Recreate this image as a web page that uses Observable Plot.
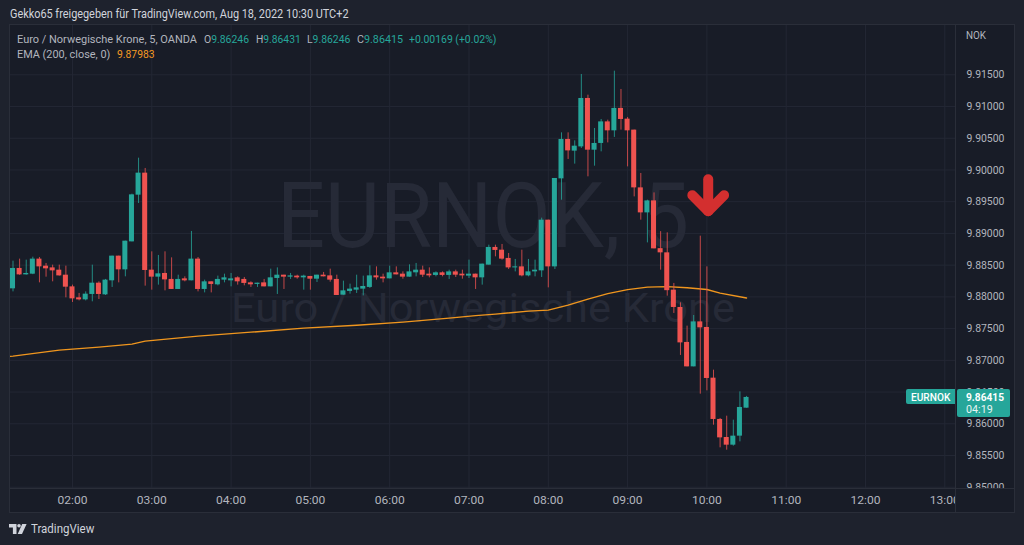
<!DOCTYPE html>
<html><head><meta charset="utf-8">
<script src="https://cdn.jsdelivr.net/npm/d3@7"></script>
<script src="https://cdn.jsdelivr.net/npm/@observablehq/plot@0.6"></script>
<style>
html,body{margin:0;padding:0;background:#1e222d;overflow:hidden}
#wrap{position:relative;width:1024px;height:545px;overflow:hidden;background:#1e222d;font-family:Roboto,"Open Sans",sans-serif}
.abs{position:absolute}
.t{position:absolute;white-space:nowrap;line-height:1;transform-origin:0 50%}
</style></head><body>
<div id="wrap">
<div class="abs" style="left:9px;top:24px;width:1006px;height:489px;box-sizing:border-box;border:1px solid #2a2e39;background:#181c27"></div>
<div id="chart" class="abs" style="left:0;top:0"></div>
<div class="abs" style="left:956px;top:489px;width:58px;height:23px;background:#181c27"></div>
<div class="abs" style="left:955px;top:25px;width:1px;height:487px;background:#2a2e39"></div>
<div class="abs" style="left:10px;top:488px;width:1004px;height:1px;background:#2a2e39"></div>
<svg class="abs" style="left:9px;top:524px" width="18" height="10" viewBox="0 0 18 10"><path d="M0 0h7.5v10h-3.6v-6.4h-3.9z" fill="#d1d4dc"/><circle cx="10" cy="1.8" r="1.8" fill="#d1d4dc"/><path d="M13.2 0h4.4l-4.6 10h-4.3z" fill="#d1d4dc"/></svg>
</div>
<script>
// ---------- data ----------
const symbol = "EURNOK";
const symbolName = "Euro / Norwegische Krone";
const firstBar = "01:15";
const barMinutes = 5;
const open = [9.88127,9.88448,9.88347,9.88358,9.88595,9.88484,9.88457,9.88421,9.88342,9.88158,
9.87985,9.87953,9.88038,9.88216,9.88032,9.88253,9.88642,9.88426,9.88867,9.89603,
9.89950,9.88421,9.88311,9.88369,9.88275,9.88117,9.88284,9.88253,9.88595,9.88117,
9.88237,9.88190,9.88264,9.88253,9.88300,9.88275,9.88221,9.88196,9.88221,9.88158,
9.88290,9.88342,9.88311,9.88327,9.88300,9.88322,9.88279,9.88342,9.88331,9.88275,
9.88027,9.88086,9.88106,9.88122,9.88149,9.88331,9.88311,9.88284,9.88379,9.88358,
9.88311,9.88379,9.88421,9.88358,9.88338,9.88379,9.88338,9.88394,9.88358,9.88327,
9.88358,9.88300,9.88500,9.88779,9.88736,9.88606,9.88457,9.88473,9.88331,9.88394,
9.88410,9.89209,9.88473,9.89860,9.90481,9.90297,9.90364,9.91127,9.90312,9.90418,
9.90758,9.90617,9.90970,9.90801,9.90628,9.89718,9.89324,9.89513,9.88760,9.88694,
9.88106,9.87833,9.87282,9.86897,9.87606,9.87518,9.86719,9.86068,9.85784,9.85663,
9.85805,9.86246];
const high = [9.88563,9.88595,9.88579,9.88626,9.88621,9.88527,9.88500,9.88500,9.88484,9.88185,
9.88054,9.88079,9.88500,9.88237,9.88275,9.88642,9.88642,9.88878,9.89619,9.90186,
9.90024,9.88710,9.88653,9.88710,9.88615,9.88342,9.88316,9.89031,9.88621,9.88264,
9.88237,9.88327,9.88358,9.88369,9.88316,9.88306,9.88237,9.88216,9.88275,9.88437,
9.88457,9.88342,9.88369,9.88342,9.88342,9.88322,9.88342,9.88385,9.88437,9.88342,
9.88248,9.88201,9.88342,9.88327,9.88489,9.88473,9.88358,9.88484,9.88473,9.88394,
9.88505,9.88527,9.88484,9.88457,9.88394,9.88394,9.88421,9.88421,9.88421,9.88579,
9.88358,9.88516,9.88815,9.88815,9.88826,9.88684,9.88590,9.88736,9.88590,9.88579,
9.89241,9.89209,9.89866,9.90585,9.90585,9.90459,9.91505,9.91179,9.90654,9.90796,
9.90785,9.91557,9.91269,9.90828,9.90628,9.89945,9.89524,9.89639,9.89028,9.89009,
9.88212,9.87906,9.87539,9.87707,9.88957,9.88473,9.86845,9.86084,9.86120,9.86057,
9.86503,9.86431];
const low = [9.88079,9.88340,9.88342,9.88350,9.88221,9.88311,9.88237,9.88327,9.87985,9.87912,
9.87937,9.87937,9.87922,9.87959,9.88022,9.88149,9.88221,9.88316,9.88867,9.89472,
9.88169,9.88106,9.88185,9.88095,9.88117,9.88117,9.88237,9.88253,9.88079,9.88063,
9.88063,9.88174,9.88221,9.88158,9.88185,9.88174,9.88149,9.88149,9.88158,9.88158,
9.88038,9.88117,9.88275,9.88279,9.88106,9.88106,9.88227,9.88316,9.88232,9.88022,
9.88027,9.88043,9.88054,9.88016,9.88133,9.88264,9.88221,9.88284,9.88347,9.88279,
9.88311,9.88316,9.88306,9.88300,9.88316,9.88316,9.88275,9.88306,9.88279,9.88290,
9.88117,9.88185,9.88500,9.88631,9.88579,9.88432,9.88394,9.88316,9.88316,9.88316,
9.88306,9.88142,9.88432,9.89524,9.90166,9.90092,9.90339,9.89892,9.90060,9.90286,
9.90427,9.90513,9.90628,9.90049,9.89576,9.89209,9.88851,9.88757,9.88421,9.88011,
9.87739,9.87077,9.86897,9.86897,9.86467,9.86519,9.85978,9.85621,9.85584,9.85647,
9.85715,9.86246];
const close = [9.88448,9.88347,9.88369,9.88595,9.88473,9.88442,9.88410,9.88331,9.88153,9.87969,
9.87953,9.88043,9.88216,9.88038,9.88264,9.88642,9.88426,9.88878,9.89608,9.89950,
9.88416,9.88311,9.88363,9.88268,9.88117,9.88275,9.88253,9.88595,9.88117,9.88237,
9.88196,9.88275,9.88300,9.88284,9.88237,9.88212,9.88190,9.88216,9.88158,9.88300,
9.88342,9.88311,9.88331,9.88300,9.88327,9.88279,9.88342,9.88316,9.88264,9.88022,
9.88095,9.88122,9.88142,9.88164,9.88331,9.88300,9.88284,9.88379,9.88347,9.88311,
9.88394,9.88421,9.88342,9.88331,9.88379,9.88338,9.88394,9.88342,9.88331,9.88358,
9.88300,9.88516,9.88779,9.88732,9.88595,9.88457,9.88473,9.88331,9.88394,9.88421,
9.89209,9.88473,9.89866,9.90481,9.90301,9.90375,9.91127,9.90312,9.90418,9.90758,
9.90617,9.90970,9.90796,9.90617,9.89718,9.89324,9.89513,9.88757,9.88694,9.88098,
9.87833,9.87275,9.86897,9.87606,9.87512,9.86714,9.86068,9.85778,9.85663,9.85805,
9.86257,9.86415];
const emaTimes = ["01:10","01:15","01:50","02:20","02:45","02:55","03:35","04:15","04:55","05:35","06:10","06:45","07:05","07:20","07:45","08:00","08:15","08:30","08:45","09:00","09:15","09:30","09:45","10:00","10:10","10:30"];
const emaValues = [9.87058,9.87066,9.87160,9.87208,9.87255,9.87302,9.87381,9.87444,9.87507,9.87554,9.87602,9.87665,9.87704,9.87728,9.87775,9.87791,9.87870,9.87964,9.88051,9.88114,9.88153,9.88161,9.88145,9.88117,9.88059,9.87983];
const timeTicks = ["02:00","03:00","04:00","05:00","06:00","07:00","08:00","09:00","10:00","11:00","12:00","13:00"];
const priceTicks = [9.850,9.855,9.860,9.865,9.870,9.875,9.880,9.885,9.890,9.895,9.900,9.905,9.910,9.915];
const arrowTime = "10:01";
const arrowTop = 9.89855, arrowTip = 9.89351, arrowArm = 9.89603;
const remaining = "04:19";

// ---------- build ----------
const toMin = s => { const [h, m] = s.split(":").map(Number); return h * 60 + m; };
const fmtTime = m => String(Math.floor(m / 60)).padStart(2, "0") + ":" + String(m % 60).padStart(2, "0");
const t0 = toMin(firstBar);
const bars = open.map((o, i) => ({t: t0 + i * barMinutes, open: o, high: high[i], low: low[i], close: close[i]}));
const up = bars.filter(d => d.close >= d.open);
const down = bars.filter(d => d.close < d.open);
const ema = emaTimes.map((s, i) => ({t: toMin(s), v: emaValues[i]}));
const aT = toMin(arrowTime);
const arrowChevron = [{t: aT - 12, v: arrowArm}, {t: aT, v: arrowTip}, {t: aT + 12, v: arrowArm}];
const arrowStem = [{t: aT, v: arrowTop}, {t: aT, v: arrowTip}];

const TEAL = "#26a69a", RED = "#ef5350";
const half = 1.9;
const fmtP = d3.format(".5f");

const plot = Plot.plot({
  width: 1024, height: 545,
  marginTop: 25, marginBottom: 57, marginLeft: 10, marginRight: 69,
  style: {background: "transparent", color: "#b2b5be", fontFamily: "Roboto, 'Open Sans', sans-serif"},
  x: {type: "linear", domain: [73.1, 788.1]},
  y: {type: "linear", domain: [9.8498, 9.92277]},
  marks: [
    Plot.gridY(priceTicks, {stroke: "#232734", strokeOpacity: 1}),
    Plot.gridX(timeTicks.map(toMin), {stroke: "#232734", strokeOpacity: 1}),
    Plot.text([symbol + ", " + barMinutes], {text: d => d, frameAnchor: "middle", dy: -39, fontSize: 91, fill: "#262a37"}),
    Plot.text([symbolName], {text: d => d, frameAnchor: "middle", dy: 52, fontSize: 40, fill: "#262a37"}),
    Plot.line(ema, {x: "t", y: "v", stroke: "#f0961e", strokeWidth: 1.4, clip: true}),
    Plot.ruleX(up, {x: "t", y1: "low", y2: "high", stroke: TEAL, strokeOpacity: 0.8, strokeWidth: 1}),
    Plot.ruleX(down, {x: "t", y1: "low", y2: "high", stroke: RED, strokeOpacity: 0.8, strokeWidth: 1}),
    Plot.rect(up, {x1: d => d.t - half, x2: d => d.t + half, y1: "open", y2: "close", fill: TEAL}),
    Plot.rect(down, {x1: d => d.t - half, x2: d => d.t + half, y1: "open", y2: "close", fill: RED}),
    Plot.line(arrowChevron, {x: "t", y: "v", stroke: "#d32f2f", strokeWidth: 10, strokeLinecap: "round", strokeLinejoin: "round"}),
    Plot.line(arrowStem, {x: "t", y: "v", stroke: "#d32f2f", strokeWidth: 10, strokeLinecap: "round"}),
    Plot.axisY({anchor: "right", ticks: priceTicks, tickSize: 0, tickPadding: 11, tickFormat: fmtP, label: null, fontSize: 11, fill: "#b2b5be"}),
    Plot.axisX({ticks: timeTicks.map(toMin), tickSize: 0, tickPadding: 8, tickFormat: fmtTime, label: null, fontSize: 11, fill: "#b2b5be"})
  ]
});
document.getElementById("chart").appendChild(plot);

// fit texts widths
plot.querySelectorAll("text").forEach(el => {
  const s = el.textContent;
  if (s === symbol + ", " + barMinutes) { el.setAttribute("textLength", 412); el.setAttribute("lengthAdjust", "spacingAndGlyphs"); }
  else if (s === symbolName) { el.setAttribute("textLength", 504); el.setAttribute("lengthAdjust", "spacingAndGlyphs"); }
  else if (/^\d\.\d{5}$/.test(s)) { el.setAttribute("textLength", 38); el.setAttribute("lengthAdjust", "spacingAndGlyphs"); }
  else if (/^\d\d:\d\d$/.test(s)) { el.setAttribute("textLength", 30); el.setAttribute("lengthAdjust", "spacingAndGlyphs"); }
});

const wrap = document.getElementById("wrap");
function label(txt, x, cy, w, size, color, weight) {
  const el = document.createElement("div");
  el.className = "t";
  el.textContent = txt;
  el.style.left = x + "px";
  el.style.top = (cy - 0.49 * size) + "px";
  el.style.fontSize = size + "px";
  el.style.color = color;
  el.style.fontWeight = weight || 400;
  wrap.appendChild(el);
  if (w) { const r = el.getBoundingClientRect().width; if (r > 0) el.style.transform = "scaleX(" + (w / r) + ")"; }
  return el;
}
const n = bars.length - 1;
const last = bars[n];
const chg = last.close - last.open;
const pct = chg / last.open * 100;
const sign = v => (v >= 0 ? "+" : "");
const GRAY = "#b2b5be";

label("Gekko65 freigegeben für TradingView.com, Aug 18, 2022 10:30 UTC+2", 9.5, 14.3, 338.5, 12, "#d1d4dc");
label(symbolName + ", " + barMinutes + ", OANDA", 16.7, 39.8, 180, 11, GRAY);
const vals = [["O", last.open, 204, 45], ["H", last.high, 256, 44.7], ["L", last.low, 307.3, 43.4], ["C", last.close, 356.7, 46]];
vals.forEach(([k, v, x, w]) => {
  const el = label("", x, 39.8, 0, 11, GRAY);
  el.innerHTML = k + '<span style="color:' + TEAL + '">' + fmtP(v) + "</span>";
  const r = el.getBoundingClientRect().width; el.style.transform = "scaleX(" + (w / r) + ")";
});
label(sign(chg) + fmtP(chg) + " (" + sign(pct) + pct.toFixed(2) + "%)", 409.3, 39.8, 87.4, 11, TEAL);
label("EMA (200, close, 0)", 16.7, 54.8, 93.3, 11, GRAY);
label(fmtP(emaValues[emaValues.length - 1]), 116.7, 54.8, 37.6, 11, "#f59a23");
label("NOK", 966, 36.5, 20, 10.5, GRAY);
label("TradingView", 30.7, 529, 63.3, 12, "#d1d4dc");

// last price labels, positioned with the plot's y scale
const yc = plot.scale("y").apply(last.close);
const box1 = document.createElement("div");
box1.className = "abs";
Object.assign(box1.style, {left: "957px", top: (yc - 7.7) + "px", width: "53px", height: "28px", background: TEAL, borderRadius: "2px"});
wrap.appendChild(box1);
const box2 = document.createElement("div");
box2.className = "abs";
Object.assign(box2.style, {left: "906px", top: (yc - 7.7) + "px", width: "49px", height: "15px", background: TEAL, borderRadius: "2px 0 0 2px"});
wrap.appendChild(box2);
label(fmtP(last.close), 966, yc + 0.5, 38, 11.5, "#ffffff", 700);
label(remaining, 966, yc + 13, 26.7, 11.5, "#e8f5f3", 400);
label(symbol, 910.7, yc + 0.2, 39.3, 11, "#ffffff", 500);
</script>
</body></html>
